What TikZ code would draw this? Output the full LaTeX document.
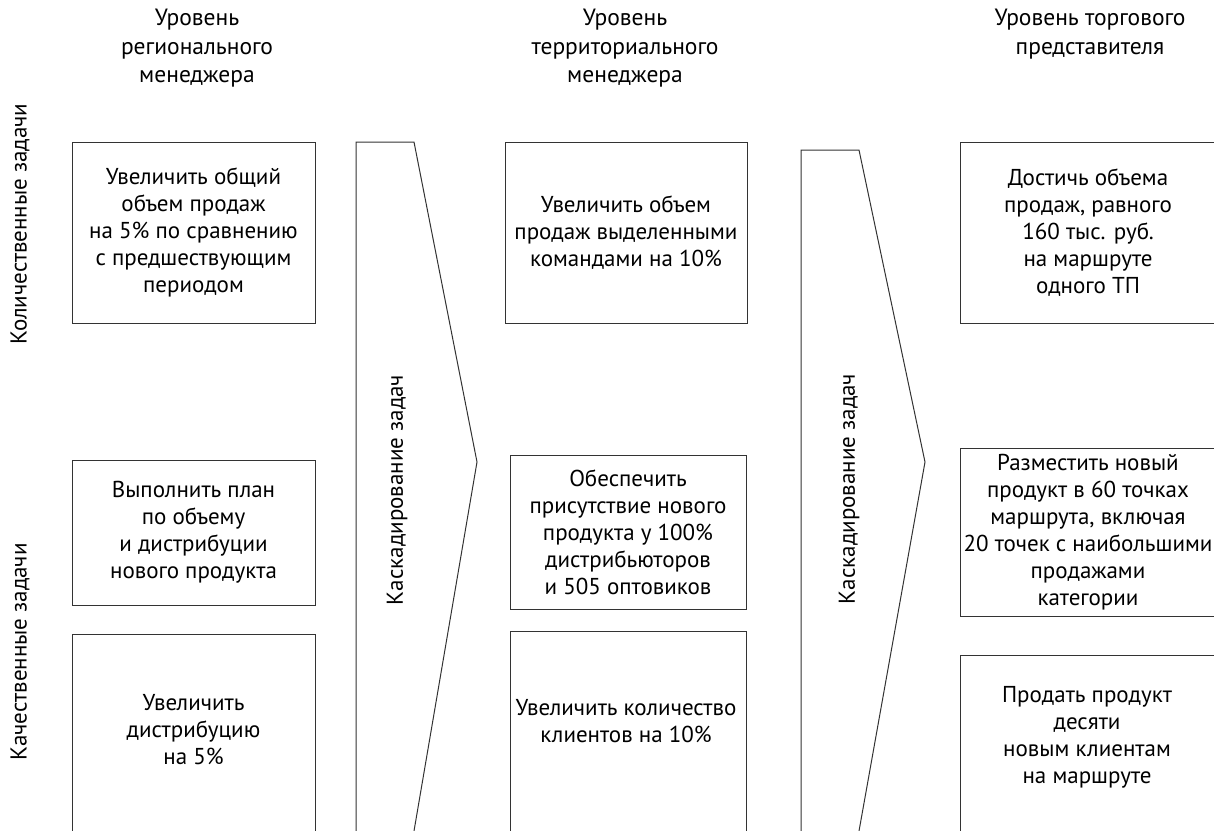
\documentclass[tikz,border=0pt]{standalone}
\usepackage{fontspec}
\setmainfont{PT Sans}
\usetikzlibrary{positioning}

\begin{document}
\begin{tikzpicture}[x=1pt,y=-1pt,
    every node/.style={font=\fontsize{23}{27}\selectfont,align=center,text=black},
    level/.style={anchor=north,font=\fontsize{23.5}{28.5}\selectfont},
    task/.style={draw=black!80,line width=1pt,inner sep=0pt},
    outline/.style={draw=black!80,line width=1pt,line join=miter}]
        \useasboundingbox (0,0) rectangle (1214,830);
        \clip (0,0) rectangle (1214,830);
        % level headers
        \node[level] (hreg) at (197,6) {Уровень\\регионального\\менеджера};
        \node[level] (hter) at (625,6) {Уровень\\территориального\\менеджера};
        \node[level] (htp) at (1090,6) {Уровень торгового\\представителя};
        % row labels
        \node[rotate=90] (lkol) at (20,224) {Количественные задачи};
        \node[rotate=90] (lkach) at (20,652) {Качественные задачи};
        % regional manager
        \node[task,minimum width=243pt,minimum height=181pt] (reg1) at (193.5,232.5)
            {Увеличить общий\\объем продаж\\на 5\% по сравнению\\с предшествующим\\периодом};
        \node[task,minimum width=243pt,minimum height=145pt] (reg2) at (193.5,532.5)
            {Выполнить план\\по объему\\и дистрибуции\\нового продукта};
        \draw[outline] (72,831) |- (315,634) -- (315,831);
        \node (reg3) at (193.5,730) {Увеличить\\дистрибуцию\\на 5\%};
        % cascade arrow 1
        \draw[outline] (356,831) -- (356,142) -- (414,142) -- (477,462) -- (414,831);
        \node[rotate=90] (casc1) at (397,490) {Каскадирование задач};
        % territorial manager
        \node[task,minimum width=242pt,minimum height=181pt] (ter1) at (626,232.5)
            {Увеличить объем\\продаж выделенными\\командами на 10\%};
        \node[task,minimum width=236pt,minimum height=154pt] (ter2) at (628,532)
            {Обеспечить\\присутствие нового\\продукта у 100\%\\дистрибьюторов\\и 505 оптовиков};
        \draw[outline] (510,831) |- (746,631) -- (746,831);
        \node (ter3) at (626,721) {Увеличить количество\\клиентов на 10\%};
        % cascade arrow 2
        \draw[outline] (801,831) -- (801,150) -- (859,150) -- (925,462) -- (859,831);
        \node[rotate=90] (casc2) at (849,489) {Каскадирование задач};
        % sales representative
        \node[task,minimum width=256pt,minimum height=181pt] (tp1) at (1088,232.5)
            {Достичь объема\\продаж, равного\\160 тыс. руб.\\на маршруте\\одного ТП};
        \node[task,minimum width=256pt,minimum height=168pt] (tp2) at (1088,532)
            {Разместить новый\\продукт в 60 точках\\маршрута, включая\\20 точек с наибольшими\\продажами\\категории};
        \draw[outline] (960,831) |- (1220,655);
        \node (tp3) at (1087,737) {Продать продукт\\десяти\\новым клиентам\\на маршруте};
\end{tikzpicture}
\end{document}
